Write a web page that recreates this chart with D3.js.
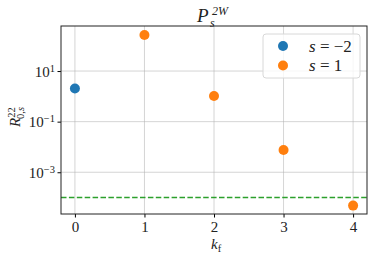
<!DOCTYPE html>
<html>
<head>
<meta charset="utf-8">
<script src="https://cdn.jsdelivr.net/npm/d3@7"></script>
<style>
  body { margin: 0; background: #fff; }
</style>
</head>
<body>
<svg id="drawing_region"></svg>
<script>
// data
const kf = [0, 1, 2, 3, 4];
const sMinus2 = [2.05];                               // k_f = 0
const sPlus1 = [265, 1.03, 0.0076, 0.000048];         // k_f = 1..4
const threshold = 1e-4;
const yTicks = [1e-3, 1e-1, 1e1];
const yTickExp = ["\u22123", "\u22121", "1"];
const seriesNames = ["s = \u22122", "s = 1"];
const colors = ["#1f77b4", "#ff7f0e"];

const serif = '"Liberation Serif", "DejaVu Serif", serif';
const width = 374, height = 257;
const margin = {top: 26, right: 7, bottom: 43, left: 61};
const innerW = width - margin.left - margin.right;
const innerH = height - margin.top - margin.bottom;

const svg = d3.select('#drawing_region')
    .attr('width', width)
    .attr('height', height)
    .style('font-family', serif);

const chart = svg.append('g')
    .attr('transform', `translate(${margin.left}, ${margin.top})`);

const xscale = d3.scaleLinear().domain([-0.2, 4.2]).range([0, innerW]);
const yscale = d3.scaleLog().domain([Math.pow(10, -4.65), Math.pow(10, 2.78)]).range([innerH, 0]);

// grid
chart.selectAll('.vgrid').data(kf).enter().append('line')
    .attr('x1', d => xscale(d)).attr('x2', d => xscale(d))
    .attr('y1', 0).attr('y2', innerH)
    .attr('stroke', '#b0b0b0').attr('stroke-opacity', 0.6).attr('stroke-width', 0.9);
chart.selectAll('.hgrid').data(yTicks).enter().append('line')
    .attr('x1', 0).attr('x2', innerW)
    .attr('y1', d => yscale(d)).attr('y2', d => yscale(d))
    .attr('stroke', '#b0b0b0').attr('stroke-opacity', 0.6).attr('stroke-width', 0.9);

// axes
const xaxis = d3.axisBottom(xscale).tickValues(kf).tickSize(3.5).tickFormat(d3.format('d'));
const xg = chart.append('g').attr('transform', `translate(0, ${innerH})`).call(xaxis)
    .attr('font-family', serif);
xg.select('.domain').remove();
xg.selectAll('text').style('font-size', '15px').style('font-family', serif)
    .attr('fill', '#222').attr('y', 12.5).attr('dy', '0.35em');

const yaxis = d3.axisLeft(yscale).tickValues(yTicks).tickSize(3.5).tickFormat('');
const yg = chart.append('g').call(yaxis).attr('font-family', serif);
yg.select('.domain').remove();
yg.selectAll('.tick').each(function(d, i) {
    const t = d3.select(this).append('text')
        .attr('x', -6).attr('dy', '0.35em')
        .attr('text-anchor', 'end')
        .style('font-size', '15px').style('font-family', serif).attr('fill', '#222');
    t.append('tspan').text('10');
    t.append('tspan').attr('dy', '-0.5em').style('font-size', '10.5px').text(yTickExp[i]);
});

// threshold
chart.append('line')
    .attr('x1', 0).attr('x2', innerW)
    .attr('y1', yscale(threshold)).attr('y2', yscale(threshold))
    .attr('stroke', '#2ca02c').attr('stroke-width', 1.5).attr('stroke-dasharray', '5.5,2.4');

// points
chart.selectAll('.p0').data(sMinus2).enter().append('circle')
    .attr('cx', (d, i) => xscale(kf[i])).attr('cy', d => yscale(d))
    .attr('r', 5).attr('fill', colors[0]);
chart.selectAll('.p1').data(sPlus1).enter().append('circle')
    .attr('cx', (d, i) => xscale(kf[i + 1])).attr('cy', d => yscale(d))
    .attr('r', 5).attr('fill', colors[1]);

// frame
chart.append('rect').attr('width', innerW).attr('height', innerH)
    .attr('fill', 'none').attr('stroke', '#222').attr('stroke-width', 1);

// legend
const lg = chart.append('g').attr('transform', `translate(${263 - margin.left}, ${34 - margin.top})`);
lg.append('rect').attr('width', 97).attr('height', 44).attr('rx', 3)
    .attr('fill', '#fff').attr('fill-opacity', 0.8).attr('stroke', '#d8d8d8');
seriesNames.forEach((name, i) => {
    lg.append('circle').attr('cx', 20).attr('cy', 12 + i * 19.5).attr('r', 5).attr('fill', colors[i]);
    const t = lg.append('text').attr('x', 46).attr('y', 12 + i * 19.5).attr('dy', '0.35em')
        .style('font-size', '17px').attr('fill', '#222');
    const parts = name.split(' ');
    t.append('tspan').style('font-style', 'italic').text(parts[0]);
    t.append('tspan').text(' ' + parts.slice(1).join(' '));
});

// title
svg.append('text').attr('x', 197).attr('y', 22).attr('fill', '#222')
    .style('font-size', '19px').style('font-style', 'italic').text('P');
svg.append('text').attr('x', 212).attr('y', 15).attr('fill', '#222')
    .style('font-size', '12px').style('font-style', 'italic').text('2W');
svg.append('text').attr('x', 210).attr('y', 27).attr('fill', '#222')
    .style('font-size', '12px').style('font-style', 'italic').text('s');

// x label
const xl = svg.append('text').attr('x', 211).attr('y', 249)
    .attr('fill', '#222').style('font-size', '15px');
xl.append('tspan').style('font-style', 'italic').text('k');
xl.append('tspan').attr('dy', '0.25em').style('font-size', '10.5px').text('f');

// y label
const yl = svg.append('text')
    .attr('transform', 'translate(20, 117) rotate(-90)')
    .attr('text-anchor', 'middle').attr('fill', '#222').style('font-size', '15px');
yl.append('tspan').style('font-style', 'italic').text('R');
yl.append('tspan').attr('dy', '-0.5em').style('font-size', '10.5px').text('22');
yl.append('tspan').attr('dx', '-1.1em').attr('dy', '0.9em').style('font-size', '10.5px').text('0,');
yl.append('tspan').style('font-size', '10.5px').style('font-style', 'italic').text('s');
</script>
</body>
</html>
